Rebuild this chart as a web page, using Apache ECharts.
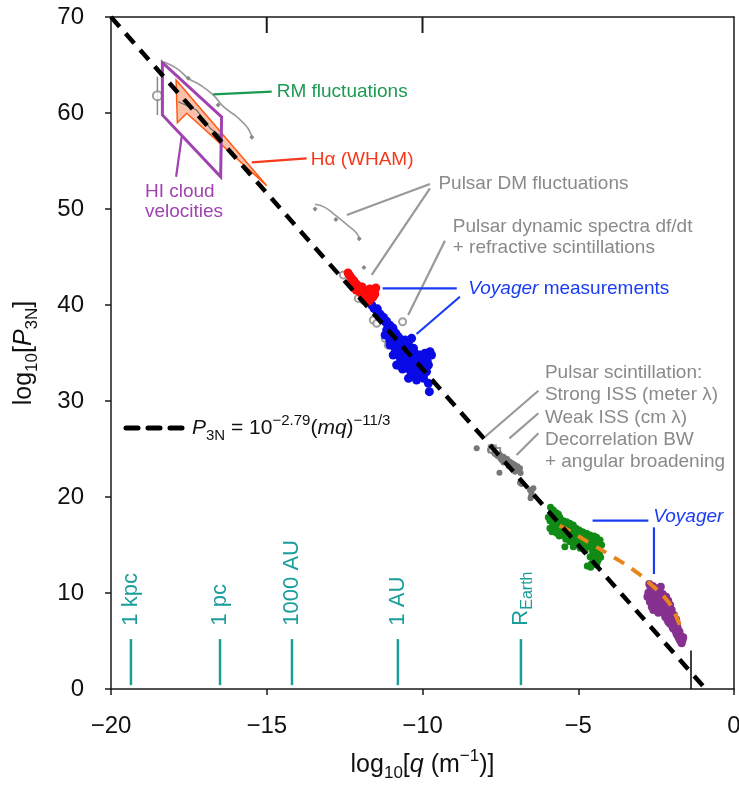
<!DOCTYPE html>
<html>
<head>
<meta charset="utf-8">
<script src="https://cdn.jsdelivr.net/npm/echarts@6/dist/echarts.min.js"></script>
<style>
  html, body { margin: 0; padding: 0; background: #fff; }
  #chart { width: 739px; height: 785px; }
</style>
</head>
<body>
<div id="chart"></div>
<script>
// ---- axes ----
const xRange = [-20, 0];
const yRange = [0, 70];
const xStep = 5;
const yStep = 10;
const topTickValues = [-15, -10];

// ---- model lines ----
// P3N = 10^-2.79 (mq)^-11/3 : log-log straight line
const fitLine = [[-20, 70], [-0.91, 0]];
// Voyager spectral fit (bends down at small scales)
const voyagerFit = [[-5.6, 17.0], [-5.43, 16.74], [-4.5, 14.95], [-3.98, 13.96], [-3.23, 12.4],
  [-2.7, 11.0], [-2.16, 9.27], [-1.9, 7.9], [-1.73, 6.49]];

// ---- Voyager measurements ----
const redPoints = [[-12.39, 43.33], [-12.33, 43.02], [-12.26, 42.71], [-12.30, 42.29], [-12.20, 42.50],
  [-12.13, 42.19], [-12.17, 41.77], [-12.07, 41.98], [-12.01, 41.67], [-11.94, 41.88], [-11.88, 41.56],
  [-11.97, 41.25], [-11.85, 41.15], [-11.75, 41.35], [-11.69, 41.67], [-11.63, 41.46], [-11.56, 41.56],
  [-11.53, 41.15], [-11.66, 40.94], [-11.75, 40.73], [-11.81, 40.52], [-11.88, 40.94], [-12.04, 41.46],
  [-12.13, 41.56], [-12.23, 42.08], [-11.50, 41.77], [-11.59, 40.83], [-11.72, 40.42]];

const bluePoints = [[-11.63, 40.00], [-11.56, 39.65], [-11.47, 39.37], [-11.39, 39.10], [-11.31, 38.78],
  [-11.26, 38.44], [-11.17, 38.16], [-11.10, 37.85], [-11.02, 37.57], [-10.94, 37.29], [-10.85, 37.01],
  [-10.78, 36.70], [-11.15, 37.40], [-11.20, 36.88], [-11.10, 36.88], [-10.99, 36.70], [-10.88, 36.35],
  [-10.78, 36.11], [-10.70, 35.83], [-10.62, 35.66], [-10.53, 35.90], [-10.45, 36.11], [-10.40, 35.49],
  [-10.51, 35.14], [-10.67, 35.14], [-10.83, 34.97], [-10.88, 35.49], [-11.04, 35.83], [-10.72, 34.62],
  [-10.56, 34.62], [-10.40, 34.79], [-10.24, 34.97], [-10.08, 34.79], [-9.92, 34.97], [-9.76, 35.14],
  [-10.29, 34.27], [-10.13, 34.10], [-9.97, 33.92], [-9.81, 33.75], [-10.45, 34.10], [-10.62, 33.92],
  [-10.78, 33.75], [-10.35, 33.58], [-10.19, 33.23], [-10.03, 33.06], [-9.87, 33.06], [-10.24, 32.71],
  [-10.08, 32.53], [-10.45, 32.36], [-10.64, 33.33], [-10.83, 33.75], [-9.81, 31.84], [-9.78, 30.97],
  [-9.71, 34.79], [-9.95, 34.44], [-10.29, 35.49], [-10.35, 36.53], [-10.56, 36.35], [-10.94, 34.79],
  [-10.19, 32.19], [-9.97, 32.36],
  [-11.45, 39.6], [-11.35, 39.0], [-11.25, 38.7], [-11.15, 38.3], [-11.05, 37.9], [-10.95, 37.6],
  [-10.90, 37.2], [-11.00, 37.0], [-10.70, 36.4], [-10.60, 36.0], [-10.50, 35.5], [-10.60, 35.3],
  [-10.35, 35.2], [-10.45, 34.6], [-10.30, 34.6], [-10.15, 34.5], [-10.00, 34.3], [-9.85, 34.2],
  [-10.20, 33.8], [-10.05, 33.6], [-9.90, 33.5], [-10.40, 33.2], [-10.55, 33.6], [-10.30, 32.9],
  [-10.15, 32.8], [-9.95, 32.8], [-10.70, 34.3], [-10.85, 35.2], [-10.95, 36.0], [-11.05, 36.3],
  [-10.80, 36.4]];

const greenPoints = [[-5.89, 18.92], [-5.80, 18.65], [-5.71, 18.37], [-5.85, 18.13], [-5.75, 18.02],
  [-5.64, 18.23], [-5.59, 17.88], [-5.67, 17.60], [-5.80, 17.67], [-5.91, 17.53], [-5.82, 17.19],
  [-5.71, 17.08], [-5.59, 17.33], [-5.48, 17.53], [-5.37, 17.43], [-5.27, 17.26], [-5.16, 17.08],
  [-5.43, 16.91], [-5.53, 16.74], [-5.64, 16.56], [-5.75, 16.63], [-5.32, 16.63], [-5.21, 16.49],
  [-5.07, 16.74], [-4.97, 16.56], [-4.86, 16.39], [-4.73, 16.22], [-4.62, 16.04], [-4.49, 15.94],
  [-4.41, 15.80], [-4.30, 15.52], [-4.36, 15.00], [-4.46, 15.17], [-4.60, 15.35], [-4.73, 15.52],
  [-4.84, 15.69], [-5.00, 15.94], [-5.14, 16.04], [-5.29, 15.87], [-5.39, 16.04], [-5.50, 16.22],
  [-5.61, 15.94], [-5.27, 15.35], [-5.10, 15.24], [-4.94, 15.17], [-4.78, 15.00], [-4.64, 14.83],
  [-4.52, 14.65], [-4.39, 14.48], [-4.32, 14.06], [-4.43, 13.85], [-4.54, 14.31], [-4.62, 13.78],
  [-4.49, 13.37], [-4.36, 13.44], [-4.57, 13.09], [-4.71, 12.81], [-4.41, 12.92], [-5.91, 16.74],
  [-5.84, 16.39], [-5.43, 14.83], [-4.94, 14.65], [-5.05, 15.69], [-4.68, 15.87], [-4.25, 15.00],
  [-5.69, 16.22], [-5.96, 17.88], [-5.16, 14.83], [-4.78, 14.41], [-4.60, 12.67], [-4.28, 13.72],
  [-4.92, 16.15], [-5.35, 16.39], [-5.24, 16.28],
  [-5.85, 18.5], [-5.75, 18.3], [-5.65, 17.9], [-5.55, 17.6], [-5.45, 17.2], [-5.30, 17.0],
  [-5.20, 16.8], [-5.05, 16.4], [-4.95, 16.2], [-4.85, 16.0], [-4.70, 15.8], [-4.55, 15.6],
  [-4.45, 15.4], [-4.35, 15.3], [-4.55, 14.9], [-4.70, 15.2], [-4.90, 15.5], [-5.10, 15.7],
  [-5.20, 15.5], [-5.40, 15.6], [-5.50, 16.0], [-5.70, 16.9], [-5.78, 17.4], [-5.60, 17.1],
  [-5.00, 15.0], [-4.85, 14.7], [-4.45, 14.2], [-4.50, 13.6], [-4.40, 13.1]];

const purplePoints = [[-2.72, 10.94], [-2.61, 10.73], [-2.50, 10.49], [-2.64, 10.31], [-2.75, 10.03],
  [-2.54, 9.96], [-2.40, 10.14], [-2.29, 9.90], [-2.18, 9.62], [-2.32, 9.44], [-2.46, 9.44],
  [-2.61, 9.62], [-2.70, 9.10], [-2.57, 8.92], [-2.43, 8.99], [-2.27, 9.10], [-2.11, 9.20],
  [-2.05, 8.75], [-2.18, 8.58], [-2.35, 8.51], [-2.50, 8.40], [-2.64, 8.58], [-2.29, 8.06],
  [-2.14, 7.95], [-2.00, 8.23], [-1.93, 7.71], [-2.08, 7.53], [-2.21, 7.53], [-2.00, 7.12],
  [-1.86, 7.26], [-1.93, 6.67], [-1.82, 6.49], [-1.89, 6.15], [-1.75, 5.97], [-1.82, 5.63],
  [-1.71, 5.52], [-1.75, 5.17], [-1.65, 5.10], [-1.68, 4.76], [-2.59, 8.23], [-2.43, 7.95],
  [-1.84, 6.91], [-2.11, 7.01], [-1.97, 6.42], [-1.63, 5.38], [-2.16, 8.92], [-2.78, 9.62],
  [-2.35, 10.66], [-2.47, 9.75], [-2.36, 9.20], [-2.22, 8.30], [-2.05, 7.40], [-1.95, 7.00],
  [-2.68, 10.6], [-2.55, 10.3], [-2.45, 10.0], [-2.55, 9.6], [-2.68, 9.4], [-2.40, 9.6],
  [-2.25, 9.4], [-2.40, 9.2], [-2.55, 9.2], [-2.50, 8.7], [-2.35, 8.8], [-2.20, 8.8],
  [-2.10, 8.5], [-2.25, 8.3], [-2.40, 8.2], [-2.15, 8.1], [-2.05, 7.8], [-2.15, 7.3],
  [-1.95, 7.6], [-1.90, 7.3], [-2.05, 6.8], [-1.88, 6.8], [-1.80, 6.2], [-1.95, 6.3],
  [-1.85, 5.8], [-1.78, 5.4], [-1.72, 5.0]];

// ---- pulsar data ----
const scintPoints = [[-7.83, 24.90], [-7.73, 24.72], [-7.67, 24.48], [-7.62, 24.62], [-7.57, 24.27],
  [-7.51, 24.38], [-7.46, 24.13], [-7.41, 23.92], [-7.35, 24.03], [-7.30, 23.79], [-7.24, 23.61],
  [-7.19, 23.68], [-7.14, 23.44], [-7.08, 23.23], [-7.03, 23.33], [-6.98, 23.09], [-6.92, 22.88],
  [-6.87, 22.99], [-7.53, 22.53], [-7.46, 23.85], [-7.24, 23.23], [-7.03, 22.64], [-6.87, 21.49],
  [-6.82, 21.35], [-6.55, 20.73], [-6.50, 20.21], [-6.53, 19.86], [-6.44, 20.90], [-7.78, 25.24],
  [-8.26, 25.07],
  [-7.70, 24.9], [-7.60, 24.3], [-7.55, 24.55], [-7.40, 24.2], [-7.35, 23.7], [-7.28, 23.95],
  [-7.20, 23.4], [-7.10, 23.5], [-7.00, 22.9], [-6.95, 23.2], [-6.90, 22.7], [-7.15, 23.1],
  [-7.40, 23.6], [-7.50, 24.0], [-6.85, 22.5], [-6.50, 20.5], [-6.52, 20.0]];
const scintBoxes = [[-7.76, 25.0], [-7.62, 24.75]];
const dynSpecPoints = [[-10.64, 38.26], [-12.54, 43.12], [-12.06, 40.69], [-11.90, 40.52],
  [-11.58, 38.44], [-11.47, 38.09], [-11.20, 36.53], [-11.10, 35.83]];
const dmCurve = [[-13.45, 50.5], [-13.15, 50.2], [-12.78, 49.3], [-12.4, 48.3], [-12.12, 47.5], [-12.03, 46.9]];
const dmMarks = [[-13.45, 50.0], [-12.78, 48.9], [-12.03, 46.9], [-11.88, 43.9]];

// ---- Galactic tracers ----
const rmCurve = [[-18.32, 65.35], [-17.89, 64.65], [-17.52, 63.61], [-17.14, 62.92], [-16.72, 61.88],
  [-16.39, 60.66], [-15.96, 59.61], [-15.64, 58.57], [-15.52, 57.88], [-15.48, 57.47]];
const rmMarks = [[-17.52, 63.61], [-16.56, 60.83], [-15.48, 57.47]];
const haRegion = [[-17.91, 63.44], [-15.0, 52.43], [-17.57, 59.97], [-17.87, 58.99]];
const haTrace = [[-17.84, 61.18], [-17.25, 60.31], [-16.82, 58.41], [-16.45, 57.53]];
const hiRegion = [[-18.35, 65.24], [-16.45, 59.6], [-16.48, 53.36], [-18.35, 59.8]];
const hiCloudPoint = [[-18.51, 61.8]];
const hiCloudBar = [[-18.51, 59.79], [-18.51, 63.78]];
const innerScaleMark = [[-1.38, 0], [-1.38, 4.0]];

// ---- physical length scales ----
const scaleNames = ['1 kpc', '1 pc', '1000 AU', '1 AU', 'R_Earth'];
const scaleX = [-19.36, -16.50, -14.19, -10.79, -6.84];
const scaleSpan = [0.4, 5.2];
const scaleLabelBase = 6.6;

const FONT = '"Liberation Sans", Arial, Helvetica, sans-serif';
const COL = {
  axis: '#1a1a1a', gray: '#8a8a8a', grayLine: '#999999', green: '#1d9a52', red: '#f43a1c',
  blue: '#1a3cf2', hi: '#a043b0', teal: '#1a9e9b', orange: '#e8861c',
  dotRed: '#ff0a0a', dotBlue: '#0a0ae6', dotGreen: '#118a16', dotPurple: '#86308f', dotGray: '#777777'
};

// annotations: text anchored at data coordinates (left edge, vertically centred)
const annotations = [
  { x: -14.68, y: 62.22, text: 'RM fluctuations', color: COL.green },
  { x: -13.59, y: 55.18, text: 'H\u03b1 (WHAM)', color: COL.red },
  { x: -18.91, y: 51.80, text: 'HI cloud', color: COL.hi },
  { x: -18.91, y: 49.72, text: 'velocities', color: COL.hi },
  { x: -9.49, y: 52.68, text: 'Pulsar DM fluctuations', color: COL.gray },
  { x: -9.03, y: 48.16, text: 'Pulsar dynamic spectra df/dt', color: COL.gray },
  { x: -9.03, y: 45.91, text: '+ refractive scintillations', color: COL.gray },
  { x: -8.53, y: 41.74, text: '{i|Voyager}{n| measurements}', color: COL.blue },
  { x: -6.07, y: 32.95, text: 'Pulsar scintillation:', color: COL.gray },
  { x: -6.07, y: 30.63, text: 'Strong ISS (meter \u03bb)', color: COL.gray },
  { x: -6.07, y: 28.30, text: 'Weak ISS (cm \u03bb)', color: COL.gray },
  { x: -6.07, y: 26.01, text: 'Decorrelation BW', color: COL.gray },
  { x: -6.07, y: 23.68, text: '+ angular broadening', color: COL.gray },
  { x: -2.59, y: 17.95, text: '{i|Voyager}', color: COL.blue }
];

// leader lines [x1, y1, x2, y2, colour]
const leaders = [
  [-16.72, 61.95, -14.84, 62.22, COL.green],
  [-15.48, 54.86, -13.72, 55.28, COL.red],
  [-17.73, 57.53, -17.91, 53.36, COL.hi],
  [-9.76, 52.60, -12.43, 49.38, COL.grayLine],
  [-9.76, 52.16, -11.63, 43.13, COL.grayLine],
  [-9.28, 46.70, -10.46, 38.96, COL.grayLine],
  [-11.28, 41.74, -8.90, 41.74, COL.blue],
  [-8.80, 40.86, -10.19, 36.98, COL.blue],
  [-6.28, 31.07, -7.99, 26.28, COL.grayLine],
  [-6.28, 28.72, -7.21, 26.11, COL.grayLine],
  [-6.28, 26.64, -6.98, 24.38, COL.grayLine],
  [-4.54, 17.53, -2.75, 17.53, COL.blue],
  [-2.57, 16.84, -2.57, 11.98, COL.blue]
];

const minus = v => (v < 0 ? '\u2212' + Math.abs(v) : String(v));

function scatter(data, color, size, z, extra) {
  return Object.assign({
    type: 'scatter', data, symbolSize: size, z, silent: true,
    itemStyle: { color, opacity: 1 }
  }, extra || {});
}
function line(data, color, width, z, extra) {
  return Object.assign({
    type: 'line', data, symbol: 'none', z, silent: true,
    lineStyle: { color, width }
  }, extra || {});
}
function polygonSeries(points, style, z) {
  return {
    type: 'custom', data: [[points[0][0], points[0][1]]], z, silent: true,
    renderItem: (params, api) => ({
      type: 'polygon',
      shape: { points: points.map(p => api.coord(p)) },
      style
    })
  };
}

const annoRich = {
  i: { fontStyle: 'italic', fontSize: 19, fontFamily: FONT },
  n: { fontSize: 19, fontFamily: FONT }
};

const titleRich = {
  n: { fontSize: 25, fontFamily: FONT, lineHeight: 34, color: '#111' },
  i: { fontSize: 25, fontFamily: FONT, fontStyle: 'italic', lineHeight: 34, color: '#111' },
  s: { fontSize: 17, fontFamily: FONT, lineHeight: 20, verticalAlign: 'bottom', color: '#111' },
  p: { fontSize: 17, fontFamily: FONT, lineHeight: 20, verticalAlign: 'top', color: '#111' }
};

const series = [
  // shaded H-alpha region and HI cloud outline
  polygonSeries(haRegion, { fill: 'rgba(244,140,100,0.55)', stroke: '#ff5a14', lineWidth: 1.5 }, 2),
  line(haTrace, '#666', 1.2, 3),
  polygonSeries(hiRegion, { fill: 'none', stroke: COL.hi, lineWidth: 3 }, 4),

  // gray pulsar and RM measurements
  line(rmCurve, COL.grayLine, 1.6, 3, { smooth: true }),
  scatter(rmMarks, '#888', 5, 3, { symbol: 'diamond' }),
  line(dmCurve, COL.grayLine, 1.6, 3, { smooth: true }),
  scatter(dmMarks, '#888', 5, 3, { symbol: 'diamond' }),
  line(hiCloudBar, '#888', 1.5, 3),
  scatter(hiCloudPoint, '#888', 9, 3, { symbol: 'emptyCircle', itemStyle: { color: '#888', borderColor: '#888', borderWidth: 1.5 } }),
  scatter(dynSpecPoints, '#888', 7, 3, { symbol: 'emptyCircle', itemStyle: { color: '#888', borderColor: '#888', borderWidth: 1.5 } }),
  scatter(scintPoints, COL.dotGray, 6, 3),
  scatter(scintBoxes, '#777', 7, 3, { symbol: 'emptyRect', itemStyle: { color: '#777', borderColor: '#777', borderWidth: 1.2 } }),

  // Voyager points
  scatter(bluePoints, COL.dotBlue, 9, 5),
  scatter(redPoints, COL.dotRed, 9, 6),
  scatter(greenPoints, COL.dotGreen, 7, 5),
  scatter(purplePoints, COL.dotPurple, 8, 5),

  // model lines
  line(voyagerFit, COL.orange, 4, 8, { smooth: true, lineStyle: { color: COL.orange, width: 4, type: [12, 9] } }),
  line(fitLine, '#000', 4.5, 9, { lineStyle: { color: '#000', width: 4.5, type: [13, 9] } }),
  line(innerScaleMark, '#000', 1.5, 9),

  // length scales
  {
    type: 'custom', z: 4, silent: true,
    data: scaleX.map((x, i) => [x, scaleSpan[0], i]),
    renderItem: (params, api) => {
      const i = api.value(2);
      const x = api.value(0);
      const p0 = api.coord([x, scaleSpan[0]]);
      const p1 = api.coord([x, scaleSpan[1]]);
      const pt = api.coord([x, scaleLabelBase]);
      const name = scaleNames[i];
      const txt = name === 'R_Earth' ? '{r|R}{s|Earth}' : '{r|' + name + '}';
      return {
        type: 'group',
        children: [
          { type: 'line', shape: { x1: p0[0], y1: p0[1], x2: p1[0], y2: p1[1] },
            style: { stroke: COL.teal, lineWidth: 2.5 } },
          { type: 'text', x: pt[0], y: pt[1], rotation: Math.PI / 2,
            style: {
              text: txt, align: 'left', verticalAlign: 'middle',
              rich: {
                r: { fontSize: 22, fontFamily: FONT, fill: COL.teal, lineHeight: 30 },
                s: { fontSize: 16, fontFamily: FONT, fill: COL.teal, lineHeight: 20, verticalAlign: 'bottom' }
              }
            } }
        ]
      };
    }
  },

  // leader lines
  {
    type: 'custom', z: 10, silent: true,
    data: leaders.map((l, i) => [l[0], l[1], i]),
    renderItem: (params, api) => {
      const l = leaders[api.value(2)];
      const a = api.coord([l[0], l[1]]);
      const b = api.coord([l[2], l[3]]);
      return { type: 'line', shape: { x1: a[0], y1: a[1], x2: b[0], y2: b[1] },
        style: { stroke: l[4], lineWidth: 2.2 } };
    }
  },

  // annotation text
  {
    type: 'custom', z: 10, silent: true,
    data: annotations.map((a, i) => [a.x, a.y, i]),
    renderItem: (params, api) => {
      const a = annotations[api.value(2)];
      const p = api.coord([a.x, a.y]);
      const rich = a.text.indexOf('{') === 0 ? a.text : '{n|' + a.text + '}';
      return {
        type: 'text', x: p[0], y: p[1],
        style: {
          text: rich, align: 'left', verticalAlign: 'middle', fill: a.color,
          rich: {
            i: Object.assign({ fill: a.color }, annoRich.i),
            n: Object.assign({ fill: a.color }, annoRich.n)
          }
        }
      };
    }
  }
];

const legendGraphics = [
  {
    type: 'line', z: 100, silent: true,
    shape: { x1: 126, y1: 428, x2: 182, y2: 428 },
    style: { stroke: '#000', lineWidth: 5, lineDash: [12, 10], lineCap: 'round' }
  },
  {
    type: 'text', z: 100, silent: true, x: 192, y: 428,
    style: {
      text: '{i|P}{s|3N}{n| = 10}{p|\u22122.79}{n|(}{i|mq}{n|)}{p|\u221211/3}',
      verticalAlign: 'middle', align: 'left',
      rich: {
        n: { fontSize: 21, fontFamily: FONT, lineHeight: 30, fill: '#111' },
        i: { fontSize: 21, fontFamily: FONT, fontStyle: 'italic', lineHeight: 30, fill: '#111' },
        s: { fontSize: 15, fontFamily: FONT, lineHeight: 18, verticalAlign: 'bottom', fill: '#111' },
        p: { fontSize: 15, fontFamily: FONT, lineHeight: 18, verticalAlign: 'top', fill: '#111' }
      }
    }
  }
];

const option = {
  animation: false,
  backgroundColor: '#ffffff',
  grid: { left: 111, right: 5, top: 17, bottom: 96, containLabel: false, outerBoundsMode: 'none' },
  xAxis: [
    {
      type: 'value', min: xRange[0], max: xRange[1], interval: xStep, position: 'bottom',
      splitLine: { show: false },
      axisLine: { show: true, onZero: false, lineStyle: { color: COL.axis, width: 1.5 } },
      axisTick: { show: true, inside: false, length: 6, lineStyle: { color: COL.axis, width: 1.5 } },
      axisLabel: { formatter: minus, fontSize: 24, fontFamily: FONT, color: '#111', margin: 25 },
      name: '{n|log}{s|10}{n|[}{i|q}{n| (m}{p|\u22121}{n|)]}',
      nameLocation: 'middle', nameGap: 59,
      nameTextStyle: { color: '#111', rich: titleRich }
    },
    {
      type: 'value', min: xRange[0], max: xRange[1], interval: xStep, position: 'top',
      splitLine: { show: false },
      axisLine: { show: true, onZero: false, lineStyle: { color: COL.axis, width: 1.5 } },
      axisTick: { show: false },
      axisLabel: { show: false }
    }
  ],
  yAxis: [
    {
      type: 'value', min: yRange[0], max: yRange[1], interval: yStep, position: 'left',
      splitLine: { show: false },
      axisLine: { show: true, onZero: false, lineStyle: { color: COL.axis, width: 1.5 } },
      axisTick: { show: true, inside: false, length: 6, lineStyle: { color: COL.axis, width: 1.5 } },
      axisLabel: { fontSize: 24, fontFamily: FONT, color: '#111', margin: 27 },
      name: '{n|log}{s|10}{n|[}{i|P}{s|3N}{n|]}',
      nameLocation: 'middle', nameGap: 70, nameRotate: 90,
      nameTextStyle: { color: '#111', rich: titleRich }
    },
    {
      type: 'value', min: yRange[0], max: yRange[1], interval: yStep, position: 'right',
      splitLine: { show: false },
      axisLine: { show: true, onZero: false, lineStyle: { color: COL.axis, width: 1.5 } },
      axisTick: { show: false }, axisLabel: { show: false }
    }
  ],
  graphic: legendGraphics,
  series
};

const chart = echarts.init(document.getElementById('chart'), null, { renderer: 'canvas' });
chart.setOption(option);

// inward ticks hanging from the top frame, placed through the axis scale
const topTicks = topTickValues.map(v => {
  const p = chart.convertToPixel({ xAxisIndex: 0, yAxisIndex: 0 }, [v, yRange[1]]);
  return {
    type: 'line', z: 120, silent: true,
    shape: { x1: p[0], y1: p[1], x2: p[0], y2: p[1] + 16 },
    style: { stroke: COL.axis, lineWidth: 2 }
  };
});
chart.setOption({ graphic: legendGraphics.concat(topTicks) });
</script>
</body>
</html>
